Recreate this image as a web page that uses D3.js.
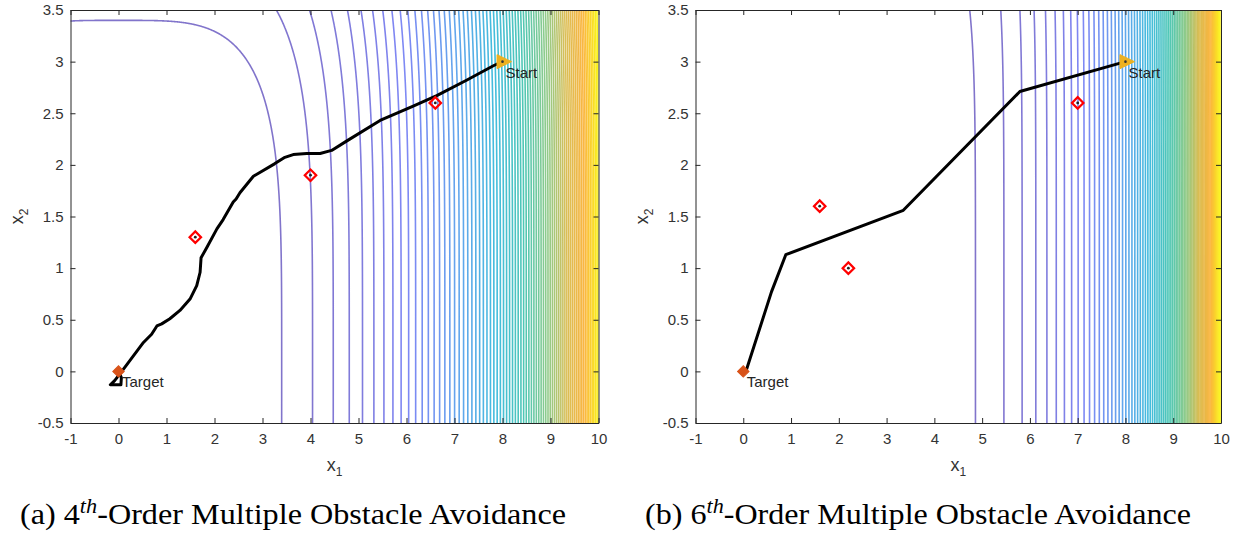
<!DOCTYPE html>
<html><head><meta charset="utf-8">
<script src="https://cdn.jsdelivr.net/npm/d3@7"></script>
<style>body{margin:0;background:#fff}</style>
</head><body><svg id="c" width="1241" height="535"></svg>
<script>
// ---------- data ----------
const xTicks = [-1,0,1,2,3,4,5,6,7,8,9,10];
const yTicks = [-0.5,0,0.5,1,1.5,2,2.5,3,3.5];
const xDomain = [-1,10], yDomain = [-0.5,3.5];
const potentialOrder = [4,6];
const contourLevelCount = [75,75];
const captionLetter = ["(a) ","(b) "];
const captionOrder = ["4","6"];
const captionSup = "th";
const captionRest = "-Order Multiple Obstacle Avoidance";
const startPoint = [8,3];
const targetPoint = [0,0];
const obstaclesA_x = [1.6,4.0,6.6];
const obstaclesA_y = [1.3,1.9,2.6];
const obstaclesB_x = [1.6,2.2,7.0];
const obstaclesB_y = [1.6,1.0,2.6];
const pathA_x = [8.00,7.81,7.25,6.63,6.14,5.45,4.75,4.44,4.20,3.92,3.64,3.45,3.25,2.81,2.53,2.45,2.39,2.18,2.05,1.84,1.72,1.70,1.63,1.49,1.28,1.07,0.90,0.80,0.69,0.52,0.31,0.10,0.02,-0.08,-0.17,0.05,0.06,0.00];
const pathA_y = [3.00,2.96,2.82,2.67,2.57,2.43,2.23,2.14,2.11,2.11,2.10,2.07,2.01,1.89,1.73,1.67,1.64,1.47,1.38,1.20,1.10,0.96,0.83,0.70,0.59,0.51,0.46,0.44,0.36,0.28,0.15,0.02,-0.03,-0.09,-0.13,-0.13,-0.06,0.00];
const pathB_x = [8.00,5.79,3.35,0.89,0.59,0.07,0.00];
const pathB_y = [3.00,2.71,1.56,1.13,0.77,0.02,0.00];
const parulaStops = ["#3e26a8","#4652f0","#2a86e6","#10aad3","#29bba6","#7cc37a","#d6b845","#fbb238","#f9fb15"];

// ---------- layout ----------
const W = 1241, H = 535;
const panelLeft = [70.5, 695.5], panelRight = [598.5, 1221];
const plotTop = 10, plotBottom = 423;
const axisColor = "#262626";
const sans = "'Liberation Sans', Arial, Helvetica, sans-serif";
const serif = "'Liberation Serif', 'Times New Roman', serif";

const svg = d3.select("#c");
svg.append("rect").attr("width",W).attr("height",H).attr("fill","#fff");
const defs = svg.append("defs");

const parula = d3.scaleLinear()
  .domain(parulaStops.map((_,i)=>i/(parulaStops.length-1)))
  .range(parulaStops).interpolate(d3.interpolateRgb).clamp(true);

const paths = [{x:pathA_x,y:pathA_y},{x:pathB_x,y:pathB_y}];
const obstacles = [{x:obstaclesA_x,y:obstaclesA_y},{x:obstaclesB_x,y:obstaclesB_y}];

[0,1].forEach(p => {
  const x = d3.scaleLinear().domain(xDomain).range([panelLeft[p], panelRight[p]]);
  const y = d3.scaleLinear().domain(yDomain).range([plotBottom, plotTop]);
  const g = svg.append("g");
  const clipId = "clip" + p;
  defs.append("clipPath").attr("id",clipId).append("rect")
    .attr("x",x(xDomain[0])).attr("y",y(yDomain[1]))
    .attr("width",x(xDomain[1])-x(xDomain[0])).attr("height",y(yDomain[0])-y(yDomain[1]));
  const cg = g.append("g").attr("clip-path",`url(#${clipId})`);

  // ---- contour field ----
  const order = potentialOrder[p];
  const xa=-1.3, xb=10.3, ya=-0.8, yb=3.8, n=1160, m=230;
  const dx=(xb-xa)/n, dy=(yb-ya)/m;
  const values = new Float64Array(n*m);
  for (let j=0;j<m;j++){
    const Y = ya+(j+0.5)*dy;
    const yy = Math.pow(Math.abs(Y),order);
    for (let i=0;i<n;i++){
      const X = xa+(i+0.5)*dx;
      values[j*n+i] = Math.pow(Math.abs(X),order)+yy;
    }
  }
  const zmax = Math.pow(d3.max(xDomain,Math.abs),order)+Math.pow(d3.max(yDomain,Math.abs),order);
  const nL = contourLevelCount[p];
  const levels = d3.range(1,nL+1).map(k => zmax*k/(nL+1));
  const contours = d3.contours().size([n,m]).thresholds(levels)(values);
  const proj = d3.geoTransform({point(px,py){ this.stream.point(x(xa+px*dx), y(ya+py*dy)); }});
  const gp = d3.geoPath(proj);
  cg.selectAll("path.ct").data(contours).join("path").attr("class","ct")
    .attr("d",gp).attr("fill","none")
    .attr("stroke",d=>parula(d.value/zmax)).attr("stroke-width",1.6)
    .attr("stroke-opacity",d=>0.65+0.35*(d.value/zmax));

  // ---- trajectory ----
  const pd = paths[p];
  const line = d3.line().x((d)=>x(d[0])).y(d=>y(d[1]));
  cg.append("path").datum(pd.x.map((v,i)=>[v,pd.y[i]]))
    .attr("d",line).attr("fill","none").attr("stroke","#000")
    .attr("stroke-width",3).attr("stroke-linejoin","round").attr("stroke-linecap","round");

  // ---- obstacles ----
  const ob = obstacles[p];
  const diamond = d3.symbol(d3.symbolSquare, 66)();
  ob.x.forEach((ox,i)=>{
    const tx = x(ox), ty = y(ob.y[i]);
    cg.append("path").attr("d",diamond).attr("transform",`translate(${tx},${ty}) rotate(45)`)
      .attr("fill","none").attr("stroke","#ff0000").attr("stroke-width",2.2);
    cg.append("circle").attr("cx",tx).attr("cy",ty).attr("r",1.4).attr("fill","#222");
  });

  // ---- target ----
  const tX = x(targetPoint[0]), tY = y(targetPoint[1]);
  cg.append("path").attr("d",d3.symbol(d3.symbolSquare,66)()).attr("transform",`translate(${tX},${tY}) rotate(45)`)
    .attr("fill","#D95319").attr("stroke","#D95319").attr("stroke-width",1);
  g.append("text").attr("x",tX+3.5).attr("y",tY+16).style("font-family",sans).style("font-size","15px").attr("fill",axisColor).text("Target");

  // ---- start ----
  const sX = x(startPoint[0]), sY = y(startPoint[1]);
  cg.append("path").attr("d",`M${sX-5.5},${sY-7}L${sX+9},${sY}L${sX-5.5},${sY+7}Z`)
    .attr("fill","#EDB120").attr("stroke","#EDB120").attr("stroke-width",1).attr("stroke-linejoin","round");
  cg.append("circle").attr("cx",sX).attr("cy",sY).attr("r",1.3).attr("fill","#333");
  g.append("text").attr("x",sX+3).attr("y",sY+16.5).style("font-family",sans).style("font-size","15px").attr("fill",axisColor).text("Start");

  // ---- axes ----
  const ax = g.append("g").attr("color",axisColor);
  ax.append("g").attr("transform",`translate(0,${plotBottom})`)
    .call(d3.axisBottom(x).tickValues(xTicks).tickFormat(d=>String(d)).tickSizeInner(-5).tickSizeOuter(0).tickPadding(10));
  ax.append("g").attr("transform",`translate(0,${plotTop})`)
    .call(d3.axisTop(x).tickValues(xTicks).tickFormat("").tickSizeInner(-5).tickSizeOuter(0));
  ax.append("g").attr("transform",`translate(${panelLeft[p]},0)`)
    .call(d3.axisLeft(y).tickValues(yTicks).tickFormat(d=>String(d)).tickSizeInner(-5).tickSizeOuter(0).tickPadding(7));
  ax.append("g").attr("transform",`translate(${panelRight[p]},0)`)
    .call(d3.axisRight(y).tickValues(yTicks).tickFormat("").tickSizeInner(-5).tickSizeOuter(0));
  ax.selectAll("text").style("font-family",sans).style("font-size","15px").attr("fill","#333");
  ax.selectAll(".domain").attr("stroke",axisColor);
  ax.selectAll(".tick line").attr("stroke",axisColor);

  // axis labels
  const cx = (panelLeft[p]+panelRight[p])/2;
  const xl = g.append("text").attr("x",cx).attr("y",471).attr("text-anchor","middle")
    .style("font-family",sans).style("font-size","18px").attr("fill","#333");
  xl.append("tspan").text("x");
  xl.append("tspan").style("font-size","12px").attr("dy",5).text("1");
  const yl = g.append("text").attr("transform",`translate(${panelLeft[p]-48},${(plotTop+plotBottom)/2}) rotate(-90)`)
    .attr("text-anchor","middle").style("font-family",sans).style("font-size","18px").attr("fill","#333");
  yl.append("tspan").text("x");
  yl.append("tspan").style("font-size","12px").attr("dy",5).text("2");

  // caption
  const capX = [20, 645][p];
  const cap = svg.append("text").attr("x",capX).attr("y",524)
    .style("font-family",serif).style("font-size","29px").attr("fill","#000")
    .attr("textLength",546).attr("lengthAdjust","spacingAndGlyphs");
  cap.append("tspan").text(captionLetter[p] + captionOrder[p]);
  cap.append("tspan").style("font-size","20px").style("font-style","italic").attr("dy",-11).text(captionSup);
  cap.append("tspan").attr("dy",11).text(captionRest);
});
</script>
</body></html>
